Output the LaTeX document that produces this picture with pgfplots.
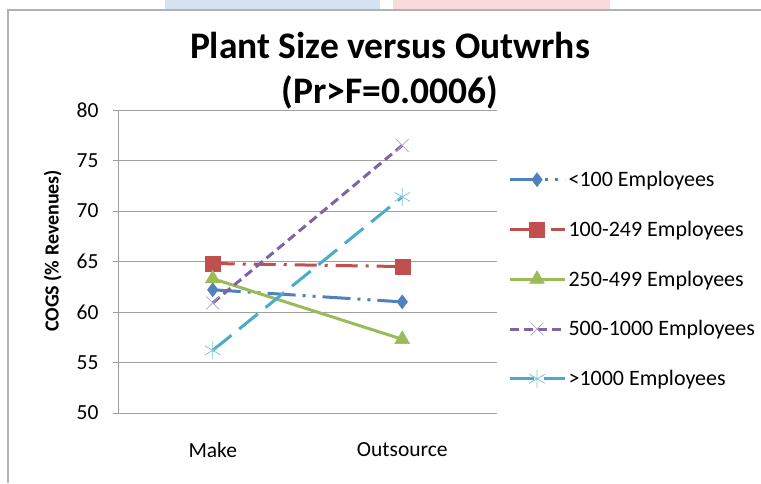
\documentclass[border=0pt]{standalone}
\usepackage{pgfplots}
\pgfplotsset{compat=1.18}
\usepackage{fontspec}
\setmainfont{Carlito}
\definecolor{cblue}{HTML}{4F81BD}
\definecolor{cred}{HTML}{C0504D}
\definecolor{cgreen}{HTML}{9BBB59}
\definecolor{cpurple}{HTML}{8064A2}
\definecolor{ccyan}{HTML}{4BACC6}
\definecolor{gridc}{HTML}{A0A0A0}
\begin{document}
\begin{tikzpicture}
\useasboundingbox (0pt,0pt) rectangle (761pt,483pt);
\fill[white] (0pt,0pt) rectangle (761pt,483pt);
\fill[fill={rgb,255:red,214;green,227;blue,243}] (165pt,473pt) rectangle (380pt,483pt);
\fill[fill={rgb,255:red,250;green,218;blue,221}] (393pt,473pt) rectangle (610pt,483pt);
\draw[gray!60, line width=1.5pt] (8pt,0pt) -- (8pt,473pt) -- (761pt,473pt);
\node[font=\fontsize{37.5}{44}\selectfont\bfseries] at (390pt,438pt) {Plant Size versus Outwrhs};
\node[font=\fontsize{37.5}{44}\selectfont\bfseries] at (390pt,391pt) {(Pr>F=0.0006)};
\begin{axis}[
  at={(118pt,70pt)}, anchor=south west, scale only axis,
  width=379pt, height=303pt,
  xmin=0.5, xmax=2.5, ymin=50, ymax=80,
  xtick={1,2}, xticklabels={Make,Outsource},
  ytick={50,55,...,80},
  axis lines=left, axis line style={-, gridc, line width=1pt},
  ymajorgrids, grid style={gridc, line width=1pt},
  xtick style={draw=none},
  ytick style={gridc, line width=1pt},
  major tick length=5pt,
  tick align=outside,
  tick label style={font=\fontsize{21.5}{25}\selectfont},
  /pgf/number format/assume math mode=true,
  yticklabel style={xshift=-11pt},
  xticklabel style={yshift=-21pt},
  ylabel={COGS (\% Revenues)},
  ylabel style={font=\fontsize{20}{24}\selectfont\bfseries, at={(axis description cs:-0.172,0.535)}, anchor=center},
  legend style={at={(rel axis cs:1.03,0.805)}, anchor=north west, draw=none, fill=none,
    font=\fontsize{22}{26}\selectfont, row sep=29pt, inner sep=0pt},
  legend cell align=left,
  legend image code/.code={\draw[mark repeat=2,mark phase=2,#1] plot coordinates {(0pt,0pt) (27pt,0pt) (55pt,0pt)};},
]
\addplot[cblue, line width=3pt, dash pattern=on 28pt off 7pt on 3pt off 7pt on 3pt off 7pt,
  mark=diamond*, mark size=7pt, mark options={solid, fill=cblue, draw=cblue, line width=0.5pt}]
  coordinates {(1,62.2) (2,61.0)};
\addlegendentry{<100 Employees}
\addplot[cred, line width=3pt, dash pattern=on 22pt off 8pt on 3pt off 8pt,
  mark=square*, mark size=7.5pt, mark options={solid, fill=cred, draw=cred, line width=0.5pt}]
  coordinates {(1,64.8) (2,64.5)};
\addlegendentry{100-249 Employees}
\addplot[cgreen, line width=3pt,
  mark=triangle*, mark size=8.5pt, mark options={solid, fill=cgreen, draw=cgreen, line width=0.5pt}]
  coordinates {(1,63.3) (2,57.3)};
\addlegendentry{250-499 Employees}
\addplot[cpurple, line width=3pt, dash pattern=on 9pt off 5pt,
  mark=x, mark size=9pt, mark options={solid, draw=cpurple!60, line width=0.8pt}]
  coordinates {(1,60.9) (2,76.5)};
\addlegendentry{500-1000 Employees}
\addplot[ccyan, line width=3pt, dash pattern=on 24pt off 10pt,
  mark=asterisk, mark size=9pt, mark options={solid, draw=ccyan!70, line width=0.8pt}]
  coordinates {(1,56.2) (2,71.4)};
\addlegendentry{>1000 Employees}
\end{axis}
\end{tikzpicture}
\end{document}
